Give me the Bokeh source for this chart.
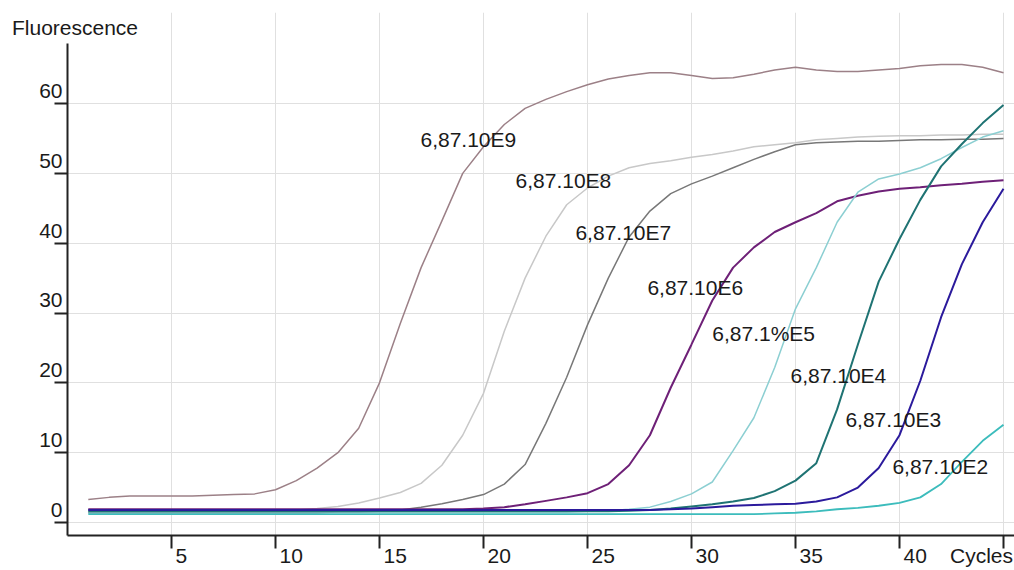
from bokeh.plotting import figure
from bokeh.models import FixedTicker, Range1d, LinearAxis
from bokeh.core.properties import value
from bokeh.embed import file_html
from bokeh.resources import INLINE

cycles = list(range(1, 46))

e9 = [3.3, 3.6, 3.8, 3.8, 3.8, 3.8, 3.9, 4.0, 4.1, 4.7,
      6.0, 7.8, 10.0, 13.5, 20.0, 28.5, 36.5, 43.2, 50.0, 53.8,
      57.0, 59.3, 60.6, 61.7, 62.7, 63.5, 64.0, 64.4, 64.4, 64.0,
      63.6, 63.7, 64.2, 64.8, 65.2, 64.8, 64.6, 64.6, 64.8, 65.0,
      65.4, 65.6, 65.6, 65.2, 64.4]
e8 = [1.6, 1.6, 1.6, 1.6, 1.6, 1.6, 1.6, 1.6, 1.7, 1.7,
      1.8, 2.0, 2.3, 2.8, 3.5, 4.3, 5.6, 8.2, 12.5, 18.5,
      27.4, 35.0, 41.0, 45.5, 47.9, 49.6, 50.8, 51.4, 51.8, 52.3,
      52.7, 53.2, 53.8, 54.1, 54.4, 54.8, 55.0, 55.2, 55.3, 55.4,
      55.4, 55.5, 55.5, 55.6, 55.6]
e7 = [1.4, 1.4, 1.4, 1.4, 1.4, 1.4, 1.4, 1.4, 1.4, 1.4,
      1.4, 1.4, 1.5, 1.5, 1.6, 1.8, 2.2, 2.7, 3.3, 4.0,
      5.5, 8.3, 14.2, 20.8, 28.3, 35.0, 40.9, 44.6, 47.1, 48.5,
      49.6, 50.8, 52.0, 53.1, 54.1, 54.4, 54.5, 54.6, 54.6, 54.7,
      54.8, 54.8, 54.9, 54.9, 55.0]
e6 = [1.9, 1.9, 1.9, 1.9, 1.9, 1.9, 1.9, 1.9, 1.9, 1.9,
      1.9, 1.9, 1.9, 1.9, 1.9, 1.9, 1.9, 1.9, 1.9, 2.0,
      2.2, 2.6, 3.1, 3.6, 4.2, 5.5, 8.2, 12.5, 19.3, 25.5,
      31.8, 36.5, 39.4, 41.6, 43.0, 44.3, 46.0, 46.8, 47.4, 47.8,
      48.0, 48.3, 48.5, 48.8, 49.0]
e5 = [1.5, 1.5, 1.5, 1.5, 1.5, 1.5, 1.5, 1.5, 1.5, 1.5,
      1.5, 1.5, 1.5, 1.5, 1.5, 1.5, 1.5, 1.5, 1.5, 1.5,
      1.5, 1.5, 1.5, 1.5, 1.6, 1.7, 1.9, 2.2, 3.0, 4.1,
      5.8, 10.3, 15.0, 22.2, 30.6, 36.5, 43.0, 47.3, 49.2, 49.9,
      50.8, 52.1, 53.7, 55.2, 56.1]
e4 = [1.6, 1.6, 1.6, 1.6, 1.6, 1.6, 1.6, 1.6, 1.6, 1.6,
      1.6, 1.6, 1.6, 1.6, 1.6, 1.6, 1.6, 1.6, 1.6, 1.6,
      1.6, 1.6, 1.6, 1.6, 1.6, 1.6, 1.7, 1.8, 2.0, 2.3,
      2.6, 3.0, 3.5, 4.5, 6.0, 8.5, 16.2, 25.5, 34.5, 40.6,
      46.2, 51.0, 54.2, 57.2, 59.8]
e3 = [1.8, 1.8, 1.8, 1.8, 1.8, 1.8, 1.8, 1.8, 1.8, 1.8,
      1.8, 1.8, 1.8, 1.8, 1.8, 1.8, 1.8, 1.8, 1.8, 1.8,
      1.8, 1.8, 1.8, 1.8, 1.8, 1.8, 1.8, 1.8, 1.9, 2.0,
      2.2, 2.4, 2.5, 2.6, 2.7, 3.0, 3.6, 5.0, 7.8, 12.5,
      20.3, 29.4, 37.0, 43.0, 47.8]
e2 = [1.2, 1.2, 1.2, 1.2, 1.2, 1.2, 1.2, 1.2, 1.2, 1.2,
      1.2, 1.2, 1.2, 1.2, 1.2, 1.2, 1.2, 1.2, 1.2, 1.2,
      1.2, 1.2, 1.2, 1.2, 1.2, 1.2, 1.2, 1.2, 1.2, 1.2,
      1.2, 1.2, 1.2, 1.3, 1.4, 1.6, 1.9, 2.1, 2.4, 2.8,
      3.6, 5.5, 8.7, 11.7, 14.0]

series_names = ["6,87.10E9", "6,87.10E8", "6,87.10E7", "6,87.10E6",
                "6,87.1%E5", "6,87.10E4", "6,87.10E3", "6,87.10E2"]
series_values = [e9, e8, e7, e6, e5, e4, e3, e2]

x_ticks = [5, 10, 15, 20, 25, 30, 35, 40]
x_tick_labels = ["5", "10", "15", "20", "25", "30", "35", "40"]
x_grid = [5, 10, 15, 20, 25, 30, 35, 40, 45]
y_ticks = [0, 10, 20, 30, 40, 50, 60]
y_tick_labels = ["0", "10", "20", "30", "40", "50", "60"]
x_title = "Cycles"
y_title = "Fluorescence"

# ---- styling / layout -------------------------------------------------
colors = ["#9c8087", "#c8c8c8", "#787878", "#6e2077",
          "#8ccfd2", "#1f7373", "#2b1a9c", "#3cbcbc"]
widths = [1.5, 1.5, 1.5, 2, 1.5, 2, 2, 1.8]
label_x = [16.97, 21.54, 24.42, 27.88, 31.0, 34.76, 37.4, 39.66]
label_y = [54.85, 48.98, 41.6, 33.72, 27.07, 21.05, 14.82, 7.95]

FONT = "Liberation Sans"
FS = "21px"
TXT = "#1a1a1a"
AX = "#222222"
W, H = 1014, 570
LEFT, TOP, BOTTOM = 67, 12, 35
PXC = 20.8                      # pixels per cycle
PXV = 6.983                     # pixels per fluorescence unit
X0 = 0
X1 = X0 + (W - LEFT) / PXC
Y0 = -1.86
Y1 = Y0 + (H - TOP - BOTTOM) / PXV

p = figure(width=W, height=H, x_range=Range1d(X0, X1), y_range=Range1d(Y0, Y1),
           output_backend="svg", toolbar_location=None,
           min_border_left=LEFT, min_border_right=0, min_border_top=TOP,
           min_border_bottom=BOTTOM)
p.outline_line_color = None
p.background_fill_color = "white"
p.border_fill_color = "white"

# grids
p.xgrid.ticker = FixedTicker(ticks=x_grid)
p.ygrid.ticker = FixedTicker(ticks=y_ticks)
p.xgrid.grid_line_color = "#e0e0e0"
p.ygrid.grid_line_color = "#e0e0e0"


def style_axis(ax, standoff):
    ax.major_tick_line_color = None
    ax.major_tick_in = 0
    ax.major_tick_out = 0
    ax.minor_tick_in = 0
    ax.minor_tick_out = 13
    ax.minor_tick_line_color = AX
    ax.minor_tick_line_width = 2
    ax.axis_line_color = AX
    ax.axis_line_width = 2
    ax.major_label_standoff = standoff
    ax.major_label_text_font = FONT
    ax.major_label_text_font_size = FS
    ax.major_label_text_color = TXT


# x axis: tick marks drawn as minor ticks, labels set just right of each tick
x_label_pos = [t + (4 + 0.556 * 21 * len(s) / 2) / PXC for t, s in zip(x_ticks, x_tick_labels)]
x_title_pos = X1 - 33 / PXC
xa = p.xaxis[0]
xa.ticker = FixedTicker(ticks=x_label_pos + [x_title_pos], minor_ticks=x_grid)
overrides = {pos: s for pos, s in zip(x_label_pos, x_tick_labels)}
overrides[x_title_pos] = x_title
xa.major_label_overrides = overrides
style_axis(xa, -5)

# y axis: labels sit just above their tick
y_label_pos = [t + 1.8 for t in y_ticks]
ya = p.yaxis[0]
ya.ticker = FixedTicker(ticks=y_label_pos, minor_ticks=y_ticks)
ya.major_label_overrides = {pos: s for pos, s in zip(y_label_pos, y_tick_labels)}
ya.bounds = (Y0, 68.6)
style_axis(ya, -8)

# y title at the top left, carried by a bare axis above the frame
title_pos = X0 + (11 + 63.5 - LEFT) / PXC
top_ax = LinearAxis(ticker=FixedTicker(ticks=[title_pos], minor_ticks=[]),
                    major_label_overrides={title_pos: y_title})
style_axis(top_ax, -26)
top_ax.axis_line_color = None
top_ax.minor_tick_line_color = None
top_ax.minor_tick_out = 0
p.add_layout(top_ax, "above")

for vals, c, w in zip(series_values, colors, widths):
    p.line(cycles, vals, line_color=c, line_width=w)

p.text(x=label_x, y=label_y, text=series_names,
       text_font=value(FONT), text_font_size=value(FS),
       text_color=TXT, text_align="left", text_baseline="middle")

open("out.html", "w").write(file_html(p, INLINE))
